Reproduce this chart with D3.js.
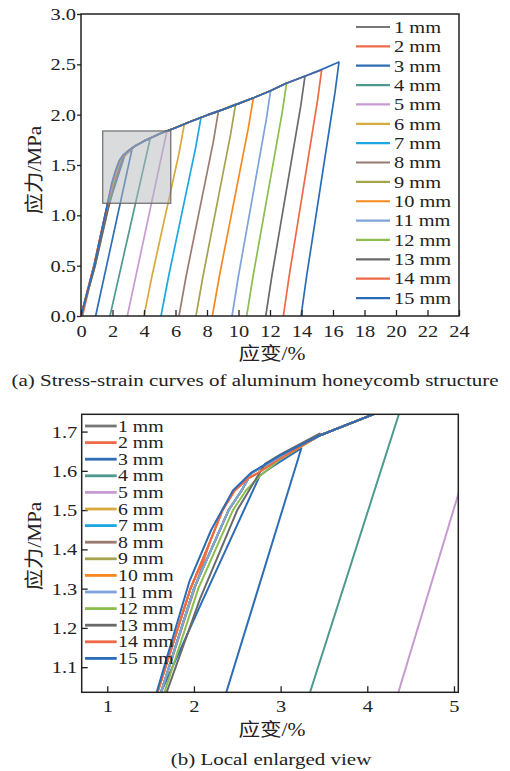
<!DOCTYPE html>
<html>
<head>
<meta charset="utf-8">
<script src="https://cdn.jsdelivr.net/npm/d3@7"></script>
<style>
  body { margin: 0; background: #fff; }
  svg text { font-family: "Liberation Serif", "Times New Roman", "Noto Sans CJK SC", serif; fill: #222; }
</style>
</head>
<body>
<script>
const labels = ["1 mm", "2 mm", "3 mm", "4 mm", "5 mm", "6 mm", "7 mm", "8 mm",
  "9 mm", "10 mm", "11 mm", "12 mm", "13 mm", "14 mm", "15 mm"];
const colors = ["#777777", "#ee6a4a", "#2f6db5", "#4e9a8e", "#c79ad2", "#d8a93c",
  "#1ba8e2", "#9a7b70", "#a3a350", "#f7891e", "#7ea3da", "#8dbd4e", "#6a6a6a",
  "#ef6848", "#2b6cb8"];

// loading parts [strain %, stress MPa]
const loadA = [[0, 0], [0.85, 0.52], [1.58, 1.036], [1.96, 1.3], [2.15, 1.4], [2.33, 1.5],
  [2.47, 1.55], [2.62, 1.58], [2.72, 1.592], [3.0, 1.632], [3.45, 1.69]];
const loadB = [[0, 0], [0.86, 0.5], [1.62, 1.036], [2.0, 1.3], [2.2, 1.4], [2.4, 1.5],
  [2.55, 1.55], [2.66, 1.594], [3.0, 1.635], [3.45, 1.69]];
const loadC = [[0, 0], [0.85, 0.5], [1.62, 1.036], [2.1, 1.27], [2.76, 1.588], [2.9, 1.61],
  [3.24, 1.658]];
const loadD = [[0, 0], [0.9, 0.5], [1.66, 1.036], [2.05, 1.3], [2.25, 1.4], [2.45, 1.5],
  [2.6, 1.55], [2.75, 1.585], [3.0, 1.63], [3.45, 1.69]];
const loadG = [[0, 0], [0.9, 0.5], [1.685, 1.036], [2.07, 1.274], [2.5, 1.5], [2.82, 1.618],
  [3.0, 1.642], [3.45, 1.695]];
const loadE = [[0, 0], [0.84, 0.5], [1.57, 1.036], [1.95, 1.32], [2.2, 1.45], [2.45, 1.55],
  [2.66, 1.595], [3.0, 1.64], [3.45, 1.69]];
const envelope = [[3.45, 1.69], [4.07, 1.744], [5.0, 1.81], [6.0, 1.87], [7.0, 1.935],
  [8.0, 1.995], [9.0, 2.05], [10.0, 2.11], [11.0, 2.17], [12.0, 2.235], [13.0, 2.31],
  [14.0, 2.37], [15.0, 2.43], [16.38, 2.523]];
const loadOf = [loadB, loadA, loadC, loadB, loadB, loadA, loadB, loadB, loadB, loadA,
  loadB, loadD, loadG, loadA, loadE];

const peaks = [[1.09, 0.65], [2.17, 1.41], [3.24, 1.658], [4.38, 1.755], [5.46, 1.84],
  [6.56, 1.907], [7.62, 1.973], [8.72, 2.03], [9.82, 2.106], [10.94, 2.163],
  [12.04, 2.238], [13.06, 2.318], [14.22, 2.384], [15.28, 2.444], [16.38, 2.523]];
const unloads = [
  [[0.05, 0]],
  [[0.10, 0]],
  [[0.93, 0]],
  [[1.84, 0]],
  [[2.94, 0]],
  [[6.21, 1.607], [4.51, 0.4], [4.00, 0]],
  [[7.28, 1.673], [5.57, 0.4], [5.08, 0]],
  [[8.40, 1.73], [6.68, 0.4], [6.22, 0]],
  [[9.50, 1.806], [7.75, 0.4], [7.30, 0]],
  [[10.62, 1.863], [8.79, 0.4], [8.34, 0]],
  [[11.75, 1.938], [10.0, 0.4], [9.59, 0]],
  [[12.77, 2.018], [10.93, 0.4], [10.52, 0]],
  [[13.95, 2.084], [12.12, 0.4], [11.73, 0]],
  [[15.02, 2.144], [13.22, 0.4], [12.85, 0]],
  [[16.13, 2.223], [14.33, 0.4], [13.97, 0]]
];

const xTicksA = d3.range(0, 25, 2);
const yTicksA = [0, 0.5, 1.0, 1.5, 2.0, 2.5, 3.0];
const xTicksB = [1, 2, 3, 4, 5];
const yTicksB = [1.1, 1.2, 1.3, 1.4, 1.5, 1.6, 1.7];
const zoomBox = [1.38, 5.7, 1.12, 1.838];

const curves = labels.map((l, i) => {
  const rise = loadOf[i].concat(envelope).filter((p) => p[0] < peaks[i][0]);
  return rise.concat([peaks[i]], unloads[i]);
});

const svg = d3.select("body").append("svg")
  .attr("width", 510)
  .attr("height", 771);

const sx = 1.2; // text in the picture is stretched sideways

function addText(x, y, s, size, anchor) {
  return svg.append("text")
    .attr("transform", `translate(${x},${y}) scale(${sx},1)`)
    .attr("text-anchor", anchor || "middle")
    .attr("font-size", size)
    .text(s);
}

function panel(opt) {
  const x = d3.scaleLinear().domain(opt.xd).range([opt.left, opt.right]);
  const y = d3.scaleLinear().domain(opt.yd).range([opt.bottom, opt.top]);

  svg.append("clipPath").attr("id", opt.id)
    .append("rect")
    .attr("x", opt.left).attr("y", opt.top)
    .attr("width", opt.right - opt.left).attr("height", opt.bottom - opt.top);

  const line = d3.line().x((d) => x(d[0])).y((d) => y(d[1]));

  svg.append("g").attr("clip-path", `url(#${opt.id})`)
    .selectAll("path")
    .data(curves)
    .enter()
    .append("path")
    .attr("d", line)
    .attr("fill", "none")
    .attr("stroke", (d, i) => colors[i])
    .attr("stroke-width", opt.lw)
    .attr("stroke-linejoin", "round");

  const xAxis = d3.axisBottom(x).tickValues(opt.xt).tickFormat(d3.format("d"))
    .tickSizeInner(-6).tickSizeOuter(0).tickPadding(opt.xpad);
  const yAxis = d3.axisLeft(y).tickValues(opt.yt).tickFormat(d3.format(".1f"))
    .tickSizeInner(opt.ytick).tickSizeOuter(0).tickPadding(opt.ypad);

  [[xAxis, `translate(0,${opt.bottom})`], [yAxis, `translate(${opt.left},0)`]].forEach((a) => {
    const g = svg.append("g").attr("transform", a[1]).call(a[0]);
    g.select(".domain").remove();
    g.selectAll("line").attr("stroke", "#222").attr("stroke-width", 1.3);
    g.attr("font-family", null).attr("font-size", null);
    g.selectAll("text")
      .attr("font-size", 17)
      .attr("fill", "#222")
      .attr("transform", `scale(${sx},1)`);
  });

  svg.append("rect")
    .attr("x", opt.left).attr("y", opt.top)
    .attr("width", opt.right - opt.left).attr("height", opt.bottom - opt.top)
    .attr("fill", "none")
    .attr("stroke", "#222")
    .attr("stroke-width", 1.5);

  return { x, y };
}

// (a) full curves
const a = panel({
  id: "clipA", left: 81, right: 459, top: 14, bottom: 316,
  xd: [0, 24], yd: [0, 3], xt: xTicksA, yt: yTicksA,
  xpad: 9, ytick: 4, ypad: 0.2, lw: 1.7
});

svg.append("rect")
  .attr("x", a.x(zoomBox[0]))
  .attr("y", a.y(zoomBox[3]))
  .attr("width", a.x(zoomBox[1]) - a.x(zoomBox[0]))
  .attr("height", a.y(zoomBox[2]) - a.y(zoomBox[3]))
  .attr("fill", "#b4b8bc")
  .attr("fill-opacity", 0.5)
  .attr("stroke", "#6a6a6a")
  .attr("stroke-width", 1.2);

labels.forEach((l, i) => {
  const yy = 27 + i * 19.36;
  svg.append("line")
    .attr("x1", 356).attr("x2", 390).attr("y1", yy).attr("y2", yy)
    .attr("stroke", colors[i]).attr("stroke-width", 2.2);
  addText(394, yy + 5.8, l, 17, "start");
});

// (b) local enlarged view
panel({
  id: "clipB", left: 81.7, right: 458.3, top: 414.3, bottom: 692.3,
  xd: [0.705, 5.05], yd: [1.036, 1.744], xt: xTicksB, yt: yTicksB,
  xpad: 7.3, ytick: -6, ypad: 3.75, lw: 2
});

labels.forEach((l, i) => {
  const yy = 426 + i * 16.6;
  svg.append("line")
    .attr("x1", 85).attr("x2", 116.7).attr("y1", yy).attr("y2", yy)
    .attr("stroke", colors[i]).attr("stroke-width", 2.8);
  addText(118, yy + 5.5, l, 16.5, "start");
});

// axis titles and captions
[[170, "应力/MPa"], [546, "应力/MPa"]].forEach((t) => {
  svg.append("text")
    .attr("transform", `translate(41,${t[0]}) rotate(-90) scale(1.25,1.15)`)
    .attr("text-anchor", "middle")
    .attr("font-size", 17)
    .text(t[1]);
});
addText(272, 360, "应变/%", 18);
addText(272, 736, "应变/%", 18);
addText(255, 386, "(a) Stress-strain curves of aluminum honeycomb structure", 17.5);
addText(271, 765, "(b) Local enlarged view", 17.5);
</script>
</body>
</html>
